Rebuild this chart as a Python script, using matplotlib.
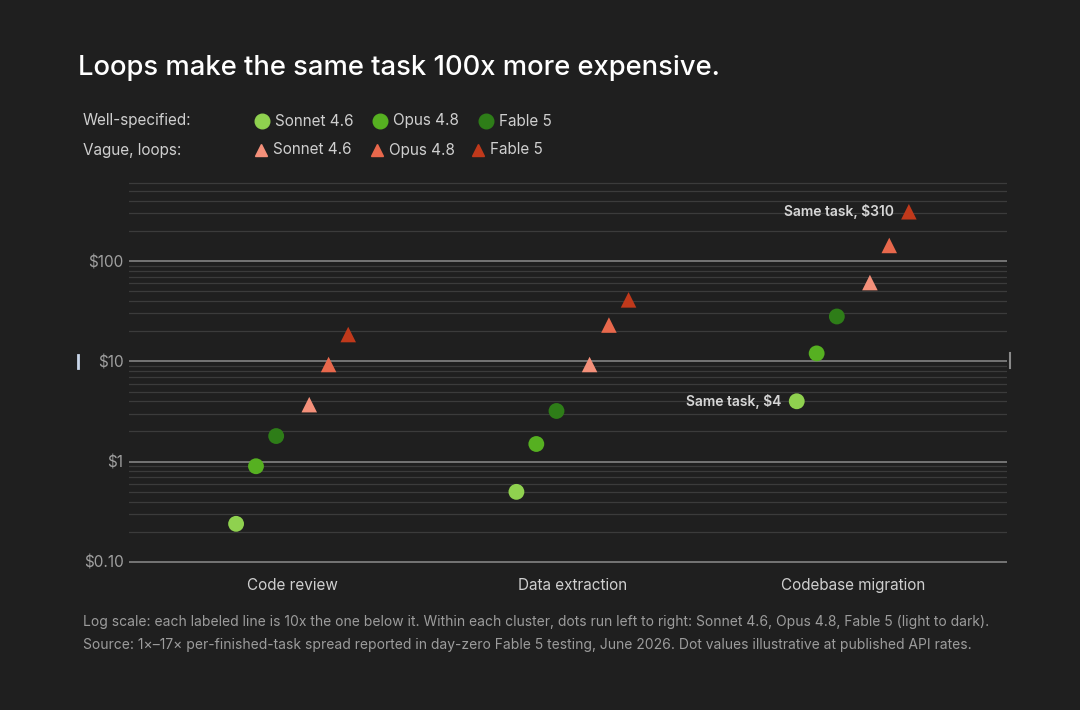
import matplotlib
matplotlib.use("Agg")
import matplotlib.pyplot as plt
from matplotlib.lines import Line2D
from matplotlib.ticker import FixedLocator, NullFormatter
import numpy as np

# ---------------- data ----------------
categories = ["Code review", "Data extraction", "Codebase migration"]
models = ["Sonnet 4.6", "Opus 4.8", "Fable 5"]
well_sonnet = [0.24, 0.5, 4.0]
well_opus = [0.9, 1.5, 12.0]
well_fable = [1.8, 3.2, 28.0]
vague_sonnet = [3.7, 9.3, 61.0]
vague_opus = [9.3, 23.0, 143.0]
vague_fable = [18.5, 41.0, 310.0]
y_ticks = [0.1, 1, 10, 100]
y_tick_labels = ["$0.10", "$1", "$10", "$100"]

# ---------------- style ----------------
BG = "#1f1f1f"
FONT = ["Inter", "DejaVu Sans"]
plt.rcParams["font.family"] = FONT
green_cols = ["#8fd14f", "#56b021", "#2e7d18"]
red_cols = ["#f4907a", "#e8684c", "#c0391b"]
dot_off = [-0.2, -0.129, -0.057]
tri_off = [0.061, 0.13, 0.2]

W, H = 1080, 710
fig = plt.figure(figsize=(W / 100, H / 100), dpi=100, facecolor=BG)

left_px, right_px = 129, 1007
top_px, bot_px = 179.5, 564.2
ax = fig.add_axes([left_px / W, 1 - bot_px / H, (right_px - left_px) / W, (bot_px - top_px) / H])
ax.set_facecolor(BG)
ax.set_yscale("log")
ax.set_ylim(0.095, 650)
ax.set_xlim(-0.582, 2.55)

x = np.arange(len(categories))
well = [well_sonnet, well_opus, well_fable]
vague = [vague_sonnet, vague_opus, vague_fable]
for i in range(3):
    ax.scatter(x + dot_off[i], well[i], s=130, marker="o", color=green_cols[i],
               edgecolors="none", zorder=5)
    ax.scatter(x + tri_off[i], vague[i], s=125, marker="^", color=red_cols[i],
               edgecolors="none", zorder=5)

# grid
ax.yaxis.set_major_locator(FixedLocator(y_ticks))
ax.set_yticklabels(y_tick_labels)
minor = [m * 10.0 ** e for e in range(-1, 3) for m in range(2, 10)]
ax.yaxis.set_minor_locator(FixedLocator(minor))
ax.yaxis.set_minor_formatter(NullFormatter())
ax.grid(True, which="major", axis="y", color="#7c7c7c", linewidth=1.3)
ax.grid(True, which="minor", axis="y", color="#3b3b3b", linewidth=0.9)
ax.grid(False, axis="x")
for s in ax.spines.values():
    s.set_visible(False)
ax.tick_params(axis="y", which="major", length=0, labelcolor="#a0a0a0",
               labelsize=11, pad=4)
ax.tick_params(axis="y", which="minor", length=0)
ax.set_xticks(x)
ax.set_xticklabels(categories)
ax.tick_params(axis="x", length=0, labelcolor="#cfcfcf", labelsize=11, pad=10)

# annotations
ax.annotate("Same task, $310", xy=(2 + tri_off[2], vague_fable[2]), xytext=(-11, 0),
            textcoords="offset points", ha="right", va="center",
            color="#d6d6d6", fontsize=10, fontweight="semibold")
ax.annotate("Same task, $4", xy=(2 + dot_off[0], well_sonnet[2]), xytext=(-11, 0),
            textcoords="offset points", ha="right", va="center",
            color="#d6d6d6", fontsize=10, fontweight="semibold")

# title
fig.text(78 / W, 1 - 68 / H, "Loops make the same task 100x more expensive.",
         color="#ffffff", fontsize=19.7, fontweight="medium", va="center", ha="left")

# legend
fig.text(83 / W, 1 - 121 / H, "Well-specified:", color="#cfcfcf", fontsize=11, va="center")
fig.text(83 / W, 1 - 150 / H, "Vague, loops:", color="#cfcfcf", fontsize=11, va="center")
dot_x = [262, 380, 486]
tri_x = [261, 377, 478]
for i in range(3):
    fig.add_artist(Line2D([dot_x[i] / W], [1 - 121 / H], marker="o", markersize=10.5,
                          color=green_cols[i], linestyle="none", transform=fig.transFigure))
    fig.text((dot_x[i] + 13) / W, 1 - 121 / H, models[i], color="#cfcfcf", fontsize=11, va="center")
    fig.add_artist(Line2D([tri_x[i] / W], [1 - 150 / H], marker="^", markersize=9,
                          color=red_cols[i], linestyle="none", transform=fig.transFigure))
    fig.text((tri_x[i] + 12) / W, 1 - 150 / H, models[i], color="#cfcfcf", fontsize=11, va="center")

# footnote
fig.text(83 / W, 1 - 622 / H,
         "Log scale: each labeled line is 10x the one below it. Within each cluster, dots run left to right: "
         "Sonnet 4.6, Opus 4.8, Fable 5 (light to dark).",
         color="#9c9c9c", fontsize=10, va="center")
fig.text(83 / W, 1 - 645 / H,
         "Source: 1\u00d7\u201317\u00d7 per-finished-task spread reported in day-zero Fable 5 testing, June 2026. "
         "Dot values illustrative at published API rates.",
         color="#9c9c9c", fontsize=10, va="center")

# small edge markers
fig.add_artist(Line2D([78 / W, 78 / W], [1 - 355 / H, 1 - 368 / H], color="#c9d6ea",
                      linewidth=2, transform=fig.transFigure))
fig.add_artist(Line2D([1010 / W, 1010 / W], [1 - 353 / H, 1 - 368 / H], color="#8a8a8a",
                      linewidth=1.5, transform=fig.transFigure))

fig.savefig("out.png", dpi=100, facecolor=BG)
